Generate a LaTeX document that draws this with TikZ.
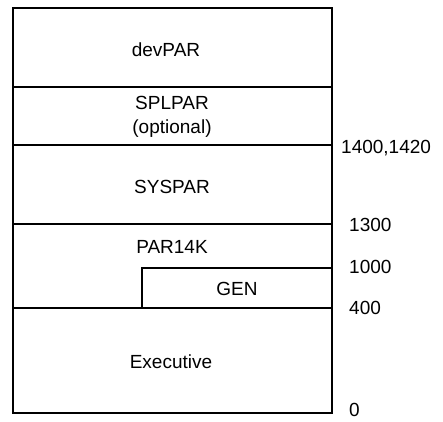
\documentclass[tikz,border=0pt]{standalone}
\usepackage{fontspec}
\setmainfont{Liberation Sans}
\begin{document}
\begin{tikzpicture}[x=1pt,y=-1pt,
  frame/.style={line width=1.8pt, line join=miter},
  lbl/.style={font=\fontsize{19}{22}\selectfont, inner sep=0pt},
  addr/.style={font=\fontsize{19}{22}\selectfont, inner sep=0pt, anchor=west}]
\useasboundingbox (0,0) rectangle (443,421);
% outer frame
\draw[frame] (13,8) rectangle (332,413);
% partition lines
\draw[frame] (13,87) -- (332,87);
\draw[frame] (13,145) -- (332,145);
\draw[frame] (13,224) -- (332,224);
\draw[frame] (13,308) -- (332,308);
\draw[frame] (142,308) -- (142,268) -- (332,268);
% labels
\node[lbl] (dev) at (166,50) {devPAR};
\node[lbl, align=center] (spl) at (172,117) {SPLPAR\\[2pt](optional)};
\node[lbl] (sys) at (172,187) {SYSPAR};
\node[lbl] (par) at (172,247) {PAR14K};
\node[lbl] (gen) at (237,289) {GEN};
\node[lbl] (exe) at (171,362) {Executive};
% address labels
\node[addr] (a1) at (341,148) {1400,1420};
\node[addr] (a2) at (349,225) {1300};
\node[addr] (a3) at (349,267) {1000};
\node[addr] (a4) at (349,308) {400};
\node[addr] (a5) at (349,410) {0};
\end{tikzpicture}
\end{document}
